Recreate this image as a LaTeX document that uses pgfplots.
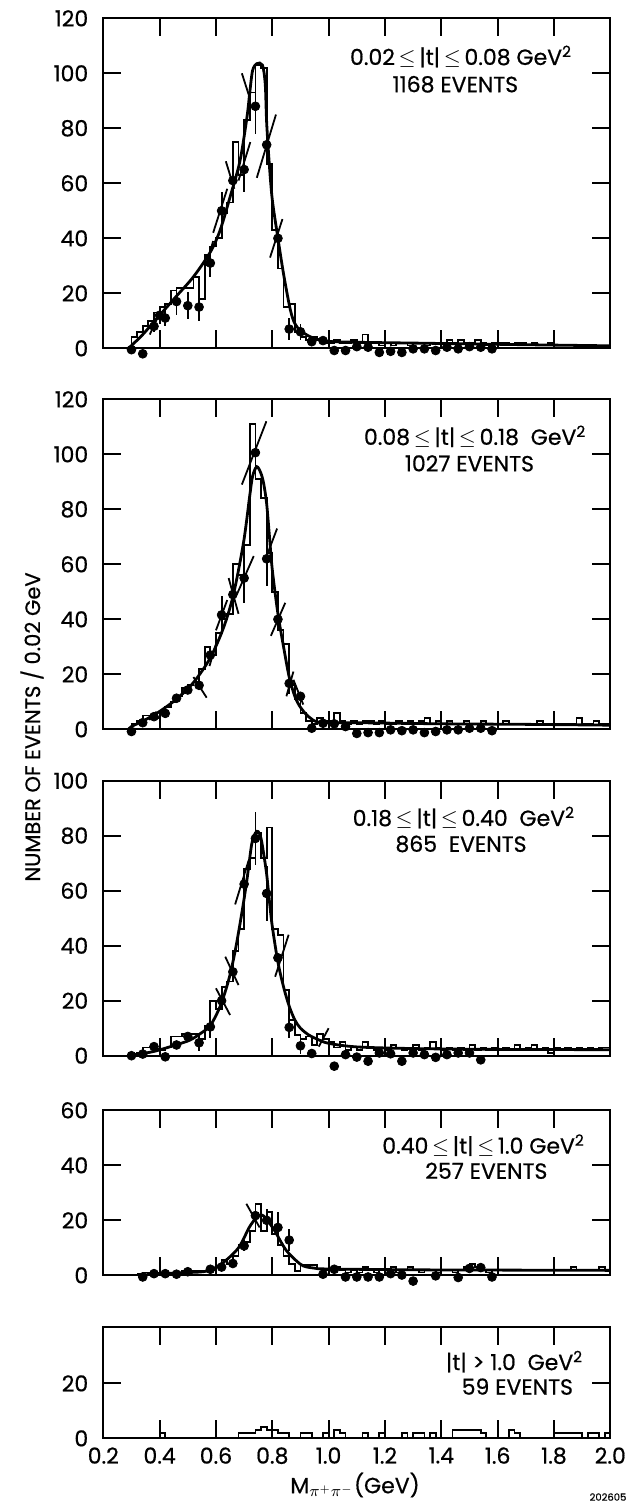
\documentclass[border=0pt]{standalone}
\usepackage{fontspec}
\setmainfont{Poppins}[FakeBold=0.6]
\usepackage{pgfplots}
\pgfplotsset{compat=1.18}

\pgfplotsset{
  panel/.style={
    scale only axis, width=253.5pt,
    xmin=0.2, xmax=2.0,
    xtick={0.2,0.4,0.6,0.8,1.0,1.2,1.4,1.6,1.8,2.0},
    tick align=inside,
    major tick length=9pt,
    axis line style={line width=1pt},
    every tick/.style={line width=1pt, black},
    xticklabels={},
    tick label style={font=\fontsize{11}{13}\selectfont},
    /pgf/number format/assume math mode=true,
    yticklabel style={xshift=-4pt},
    clip=false,
  },
  hist/.style={const plot, line width=0.9pt, black, no marks},
  fit/.style={smooth, line width=1.4pt, black, no marks},
  pts/.style={only marks, mark=*, mark size=2.2pt, black,
    error bars/.cd, y dir=both, y explicit, error mark=none,
    error bar style={line width=0.9pt}},
  slant/.style={line width=0.9pt, black, no marks, unbounded coords=jump},
}
\newcommand{\annfont}{\fontsize{11}{13}\selectfont}
\newcommand{\LE}{\,$\leq$\,}

\begin{document}
\begin{tikzpicture}
\useasboundingbox (-51.65pt,9.15pt) rectangle (262.35pt,-744.85pt);

% ---------------- Panel 1
\begin{axis}[panel, at={(0,0)}, anchor=north west, height=165pt,
  ymin=0, ymax=120, ytick={0,20,40,60,80,100,120}]
\addplot[hist] coordinates {
(0.28,0)(0.30,4)(0.32,6)(0.34,8)(0.36,10)(0.38,13)(0.40,15)(0.42,16)(0.44,21)(0.46,22)(0.48,22)(0.50,22)(0.52,26)(0.54,18)(0.56,34)(0.58,37)(0.60,40)(0.62,49)(0.64,53)(0.66,75)(0.68,63)(0.70,83)(0.72,93)(0.74,103)(0.76,102)(0.78,67)(0.80,43)(0.82,29)(0.84,15)(0.86,16)(0.88,6)(0.90,4)(0.92,3)(0.94,4)(0.96,3)(0.98,2)
(1.00,2)(1.02,3)(1.04,2)(1.06,2)(1.08,3)(1.10,2)(1.12,5)(1.14,2)(1.16,2)(1.18,1)(1.20,2)(1.22,1)(1.24,2)(1.26,2)(1.28,1)(1.30,2)(1.32,2)(1.34,1)(1.36,2)(1.38,2)(1.40,2)(1.42,3)(1.44,2)(1.46,3)(1.48,2)(1.50,2)(1.52,3)(1.54,2)(1.56,1)(1.58,2)(1.60,2)(1.62,2)(1.64,1)(1.66,2)(1.68,2)(1.70,1)(1.72,2)(1.74,1)(1.76,1)(1.78,2)(1.80,1)(1.82,1)(1.84,1)(1.86,1)(1.88,1)(1.90,0.5)(1.92,1)(1.94,1)(1.96,0.5)(1.98,1)(2.00,1)};
\addplot[fit] coordinates {
(0.29,0)(0.30,1)(0.34,5)(0.40,12)(0.46,19)(0.52,26)(0.58,35)(0.615,43)(0.65,55)(0.685,68)(0.71,84)(0.72,93)(0.73,101)(0.745,103.5)(0.765,103)(0.775,96)(0.78,82)(0.79,66)(0.80,54)(0.817,42)(0.84,27)(0.864,14)(0.88,9)(0.90,6.5)(0.935,4.2)(0.99,2.6)(1.1,2.2)(1.3,1.9)(1.5,1.6)(1.7,1.3)(2.0,0.9)};
\addplot[pts] coordinates {
(0.30,-0.5) +- (0,0)
(0.34,-2) +- (0,0)
(0.38,8) +- (0,2)
(0.40,12) +- (0,3)
(0.42,11) +- (0,3)
(0.46,17) +- (0,5)
(0.50,15.5) +- (0,5)
(0.54,15) +- (0,5)
(0.58,31) +- (0,5)
(0.62,50) +- (0,7)
(0.66,61) +- (0,0)
(0.70,65) +- (0,8)
(0.74,88) +- (0,10)
(0.78,74) +- (0,0)
(0.82,40) +- (0,0)
(0.86,7) +- (0,4)
(0.90,6) +- (0,3)
(0.94,2.4) +- (0,0)
(0.98,2.8) +- (0,0)
(1.02,-0.8) +- (0,0)
(1.06,-0.8) +- (0,0)
(1.10,0.6) +- (0,0)
(1.14,0.4) +- (0,0)
(1.18,-1.5) +- (0,0)
(1.22,-1.1) +- (0,0)
(1.26,-1.5) +- (0,0)
(1.30,-0.2) +- (0,0)
(1.34,-0.2) +- (0,0)
(1.38,-0.8) +- (0,0)
(1.42,0.4) +- (0,0)
(1.46,-0.2) +- (0,0)
(1.50,0.6) +- (0,0)
(1.54,0.4) +- (0,0)
(1.58,-0.2) +- (0,0)};
\addplot[slant] coordinates {
(0.365,5)(0.392,11)(nan,nan)
(0.565,30)(0.59,39)(nan,nan)
(0.59,42)(0.64,58)(nan,nan)
(0.635,68)(0.665,58)(nan,nan)
(0.68,61)(0.722,75)(nan,nan)
(0.692,100)(0.72,91)(nan,nan)
(0.745,62)(0.813,85)(nan,nan)
(0.792,33)(0.836,47)};
\node[font=\annfont] at (axis cs:1.47,106) {0.02\LE|t|\LE0.08 GeV\textsuperscript{2}};
\node[font=\annfont] at (axis cs:1.45,96) {1168 EVENTS};
\end{axis}

% ---------------- Panel 2
\begin{axis}[panel, at={(0,-190.5pt)}, anchor=north west, height=165pt,
  ymin=0, ymax=120, ytick={0,20,40,60,80,100,120}]
\addplot[hist] coordinates {
(0.28,0)(0.30,2)(0.32,3)(0.34,5)(0.36,5)(0.38,4)(0.40,6)(0.42,8)(0.44,10)(0.46,12)(0.48,15)(0.50,16)(0.52,17)(0.54,22)(0.56,30)(0.58,27)(0.60,35)(0.62,40)(0.64,42)(0.66,60)(0.68,56)(0.70,67)(0.72,111)(0.74,91)(0.76,84)(0.78,64)(0.80,50)(0.82,36)(0.84,31)(0.86,16)(0.88,11)(0.90,6)(0.92,3)(0.94,2)(0.96,4)(0.98,3)
(1.00,3)(1.02,6)(1.04,3)(1.06,2)(1.08,3)(1.10,2)(1.12,3)(1.14,3)(1.16,2)(1.18,3)(1.20,2)(1.22,2)(1.24,3)(1.26,2)(1.28,3)(1.30,2)(1.32,3)(1.34,4)(1.36,2)(1.38,3)(1.40,2)(1.42,3)(1.44,2)(1.46,2)(1.48,3)(1.50,2)(1.52,2)(1.54,3)(1.56,2)(1.58,2)(1.60,2)(1.62,3)(1.64,2)(1.66,2)(1.68,2)(1.70,2)(1.72,2)(1.74,3)(1.76,2)(1.78,2)(1.80,2)(1.82,2)(1.84,2)(1.86,2)(1.88,4)(1.90,2)(1.92,2)(1.94,3)(1.96,2)(1.98,2)(2.00,2)};
\addplot[fit] coordinates {
(0.29,0)(0.30,1)(0.35,3.5)(0.40,6.5)(0.46,11)(0.52,17)(0.58,26)(0.627,37)(0.662,49)(0.698,68)(0.72,85)(0.73,92)(0.745,95.5)(0.76,93)(0.77,89)(0.78,82)(0.79,70)(0.80,58)(0.82,42)(0.84,30)(0.86,19)(0.88,12)(0.90,8)(0.93,4.5)(0.97,2.5)(1.1,2.4)(1.4,2)(1.7,1.8)(2.0,1.5)};
\addplot[pts] coordinates {
(0.30,-0.8) +- (0,0)
(0.34,2.4) +- (0,0)
(0.38,4.6) +- (0,0)
(0.42,5.8) +- (0,0)
(0.46,11.3) +- (0,0)
(0.50,14.3) +- (0,0)
(0.54,16) +- (0,0)
(0.58,27) +- (0,0)
(0.62,41.6) +- (0,7)
(0.66,49) +- (0,0)
(0.70,55) +- (0,9)
(0.74,100.6) +- (0,0)
(0.78,62) +- (0,10)
(0.82,40) +- (0,0)
(0.86,16.7) +- (0,4)
(0.90,12) +- (0,0)
(0.94,0.4) +- (0,0)
(0.98,2.2) +- (0,0)
(1.02,2) +- (0,0)
(1.06,1) +- (0,0)
(1.10,-1.5) +- (0,0)
(1.14,-1.2) +- (0,0)
(1.18,-1.2) +- (0,0)
(1.22,-0.2) +- (0,0)
(1.26,-0.5) +- (0,0)
(1.30,-0.2) +- (0,0)
(1.34,-1.2) +- (0,0)
(1.38,-0.8) +- (0,0)
(1.42,-0.2) +- (0,0)
(1.46,-0.2) +- (0,0)
(1.50,0.4) +- (0,0)
(1.54,0.4) +- (0,0)
(1.58,-0.5) +- (0,0)};
\addplot[slant] coordinates {
(0.363,3.4)(0.389,6.4)(nan,nan)
(0.52,19)(0.567,11.5)(nan,nan)
(0.577,23)(0.60,31)(nan,nan)
(0.60,36)(0.64,47)(nan,nan)
(0.645,55)(0.68,42)(nan,nan)
(0.674,49)(0.734,63)(nan,nan)
(0.692,89)(0.779,112)(nan,nan)
(0.78,63)(0.817,73)(nan,nan)
(0.795,34)(0.846,46)(nan,nan)
(0.85,12)(0.875,21)(nan,nan)
(0.875,18)(0.91,9)};
\node[font=\annfont] at (axis cs:1.52,106.4) {0.08\LE|t|\LE0.18\ \ GeV\textsuperscript{2}};
\node[font=\annfont] at (axis cs:1.50,96.7) {1027 EVENTS};
\end{axis}

% ---------------- Panel 3
\begin{axis}[panel, at={(0,-381.2pt)}, anchor=north west, height=137.5pt,
  ymin=0, ymax=100, ytick={0,20,40,60,80,100}]
\addplot[hist] coordinates {
(0.28,0)(0.30,0.5)(0.32,1)(0.34,3)(0.36,3)(0.38,2.5)(0.40,2)(0.42,3)(0.44,7)(0.46,7)(0.48,8)(0.50,8)(0.52,8)(0.54,6)(0.56,11)(0.58,20)(0.60,17)(0.62,25)(0.64,27)(0.66,38)(0.68,46)(0.70,68)(0.72,72)(0.74,81)(0.76,72)(0.78,83)(0.80,46)(0.82,44)(0.84,24)(0.86,13)(0.88,7.5)(0.90,6)(0.92,7)(0.94,4)(0.96,8)(0.98,6)
(1.00,5)(1.02,3)(1.04,5)(1.06,2)(1.08,3)(1.10,2)(1.12,5)(1.14,3)(1.16,2)(1.18,3)(1.20,2)(1.22,4)(1.24,3)(1.26,2)(1.28,3)(1.30,4)(1.32,2)(1.34,3)(1.36,5)(1.38,3)(1.40,2)(1.42,3)(1.44,2)(1.46,3)(1.48,2)(1.50,4)(1.52,2)(1.54,3)(1.56,2)(1.58,3)(1.60,2)(1.62,3)(1.64,2)(1.66,4)(1.68,2)(1.70,3)(1.72,4)(1.74,2)(1.76,3)(1.78,1)(1.80,3)(1.82,2)(1.84,3)(1.86,2)(1.88,3)(1.90,2)(1.92,3)(1.94,2)(1.96,3)(1.98,3)(2.00,3)};
\addplot[fit] coordinates {
(0.29,0)(0.377,1.5)(0.46,4)(0.508,5.7)(0.544,8)(0.58,11)(0.615,18)(0.645,27.5)(0.668,38)(0.692,52)(0.71,64)(0.727,77)(0.74,81)(0.75,81.5)(0.76,79)(0.77,73)(0.78,66)(0.79,56)(0.80,47)(0.82,34)(0.84,25)(0.86,18)(0.88,13)(0.90,10)(0.93,7.5)(0.96,6)(1.0,4.5)(1.1,3.2)(1.3,2.6)(1.6,2.3)(2.0,2.2)};
\addplot[pts] coordinates {
(0.30,0) +- (0,0)
(0.34,0.6) +- (0,0)
(0.38,3.3) +- (0,0)
(0.42,-0.4) +- (0,0)
(0.46,3.9) +- (0,0)
(0.50,7) +- (0,0)
(0.54,4.7) +- (0,3)
(0.58,10.5) +- (0,4)
(0.62,20) +- (0,0)
(0.66,30.5) +- (0,0)
(0.70,62.4) +- (0,0)
(0.74,79) +- (0,9.5)
(0.78,59) +- (0,10)
(0.82,35.6) +- (0,0)
(0.86,10.3) +- (0,4)
(0.90,3.6) +- (0,3)
(0.94,0.8) +- (0,0)
(1.02,-3.8) +- (0,0)
(1.06,0.4) +- (0,0)
(1.10,-0.5) +- (0,0)
(1.14,-2) +- (0,0)
(1.18,1) +- (0,0)
(1.22,0.7) +- (0,0)
(1.26,-2) +- (0,0)
(1.30,1) +- (0,0)
(1.34,0.4) +- (0,0)
(1.38,-0.6) +- (0,0)
(1.42,0.4) +- (0,0)
(1.46,1) +- (0,0)
(1.50,1) +- (0,0)
(1.54,-1.5) +- (0,0)};
\addplot[slant] coordinates {
(0.60,24.5)(0.65,14.8)(nan,nan)
(0.633,36)(0.68,25.7)(nan,nan)
(0.668,55)(0.716,71)(nan,nan)
(0.81,28.7)(0.858,44)(nan,nan)
(0.965,3.3)(1.0,10)};
\node[font=\annfont] at (axis cs:1.48,86.5) {0.18\LE|t|\LE0.40\ \ GeV\textsuperscript{2}};
\node[font=\annfont] at (axis cs:1.47,77) {865\ \ EVENTS};
\end{axis}

% ---------------- Panel 4
\begin{axis}[panel, at={(0,-546pt)}, anchor=north west, height=82.5pt,
  ymin=0, ymax=60, ytick={0,20,40,60}]
\addplot[hist] coordinates {
(0.32,0.5)(0.34,1)(0.36,1)(0.38,1)(0.40,1)(0.42,1)(0.44,1)(0.46,1)(0.48,1.5)(0.50,1.5)(0.52,1.5)(0.54,1.5)(0.56,1.5)(0.58,2)(0.60,3)(0.62,5.5)(0.64,4)(0.66,7)(0.68,11)(0.70,12)(0.72,16)(0.74,26)(0.76,16)(0.78,23)(0.80,15)(0.82,11)(0.84,7)(0.86,4)(0.88,1.6)(0.90,3.8)(0.92,3.8)(0.94,3.8)(0.96,2.5)(0.98,2)
(1.00,2)(1.02,3)(1.04,2)(1.06,1)(1.08,2)(1.10,1)(1.12,3)(1.14,2)(1.16,1)(1.18,2)(1.20,2)(1.22,3)(1.24,1)(1.26,2)(1.28,3)(1.30,2)(1.32,1)(1.34,2)(1.36,2)(1.38,1)(1.40,2)(1.42,2)(1.44,1)(1.46,2)(1.48,3)(1.50,4)(1.52,3)(1.54,2)(1.56,1)(1.58,2)(1.60,2)(1.62,2)(1.64,2)(1.66,2)(1.68,2)(1.70,2)(1.72,2)(1.74,2)(1.76,2)(1.78,2)(1.80,2)(1.82,2)(1.84,2)(1.86,3)(1.88,2)(1.90,2)(1.92,2)(1.94,2)(1.96,3)(1.98,2)(2.00,2)};
\addplot[fit] coordinates {
(0.33,0)(0.40,0.6)(0.50,1)(0.57,1.6)(0.625,4.6)(0.68,10)(0.718,17.4)(0.74,20.5)(0.76,22)(0.775,21)(0.79,19)(0.81,16)(0.826,13)(0.85,9)(0.883,5.5)(0.91,3.4)(0.95,2.6)(1.0,2.3)(1.3,2.0)(1.6,1.9)(2.0,1.8)};
\addplot[pts] coordinates {
(0.34,-0.6) +- (0,0)
(0.38,0.6) +- (0,0)
(0.42,0.6) +- (0,0)
(0.46,0.4) +- (0,0)
(0.50,1.3) +- (0,0)
(0.58,2.2) +- (0,0)
(0.62,3) +- (0,0)
(0.66,4.3) +- (0,0)
(0.70,10.7) +- (0,2)
(0.74,21.7) +- (0,0)
(0.78,20) +- (0,4)
(0.82,17.4) +- (0,5.7)
(0.86,12.8) +- (0,4)
(0.98,0.4) +- (0,0)
(1.02,2.2) +- (0,0)
(1.06,-0.6) +- (0,0)
(1.10,-0.6) +- (0,0)
(1.14,-0.6) +- (0,0)
(1.18,-0.6) +- (0,0)
(1.22,0.6) +- (0,0)
(1.26,0.1) +- (0,0)
(1.30,-2.1) +- (0,0)
(1.38,-0.2) +- (0,0)
(1.46,-0.8) +- (0,0)
(1.50,2.5) +- (0,0)
(1.54,2.8) +- (0,0)
(1.58,-0.6) +- (0,0)};
\addplot[slant] coordinates {
(0.708,26)(0.755,17.4)};
\node[font=\annfont] at (axis cs:1.55,47.2) {0.40\LE|t|\LE1.0 GeV\textsuperscript{2}};
\node[font=\annfont] at (axis cs:1.56,38) {257 EVENTS};
\end{axis}

% ---------------- Panel 5
\begin{axis}[panel, at={(0,-654.2pt)}, anchor=north west, height=55.825pt,
  ymin=0, ymax=40.6, ytick={0,20},
  xticklabels={0.2,0.4,0.6,0.8,1.0,1.2,1.4,1.6,1.8,2.0},
  xticklabel style={yshift=-1pt}]
\addplot[hist] coordinates {
(0.28,0)(0.40,2)(0.42,0)(0.68,2)(0.70,2)(0.72,2)(0.74,3)(0.76,4)(0.78,3)(0.80,3)(0.82,2)(0.84,2)(0.86,0)(0.88,0)(0.90,2)(0.92,2)(0.94,0)(0.96,0)(0.98,2)(1.00,0)(1.02,3)(1.04,2)(1.06,0)(1.12,2)(1.14,0)(1.18,2)(1.20,0)(1.26,2)(1.28,0)(1.30,2)(1.32,2)(1.34,0)(1.36,2)(1.38,0)(1.44,3)(1.46,3)(1.48,3)(1.50,3)(1.52,3)(1.54,2)(1.56,0)(1.64,3)(1.66,2)(1.68,0)(1.80,2)(1.82,2)(1.84,2)(1.86,2)(1.88,2)(1.90,0)(1.92,2)(1.94,2)(1.96,0)(1.98,2)(2.00,2)};
\node[font=\annfont] at (axis cs:1.66,27.9) {|t| > 1.0\ \ GeV\textsuperscript{2}};
\node[font=\annfont] at (axis cs:1.67,18.8) {59 EVENTS};
\end{axis}

\node[rotate=90, font=\fontsize{10.5}{12}\selectfont] at (-35.65pt,-354.35pt) {NUMBER OF EVENTS / 0.02 GeV};
\node[font=\fontsize{11}{13}\selectfont] at (125.85pt,-733.35pt) {M$_{\pi^+\pi^-}$(GeV)};
\node[font=\fontsize{5}{6}\selectfont] at (252.35pt,-739.35pt) {202605};
\end{tikzpicture}
\end{document}
